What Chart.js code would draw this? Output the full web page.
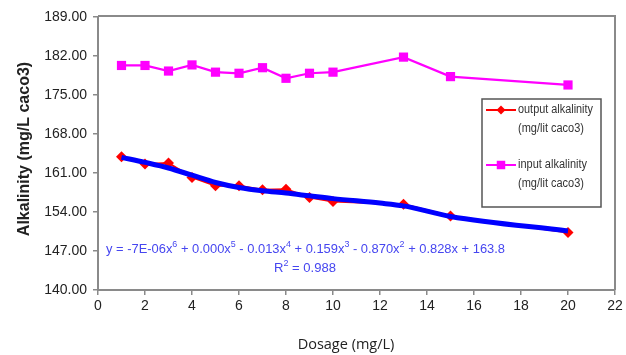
<!DOCTYPE html>
<html>
<head>
<meta charset="utf-8">
<script src="https://cdn.jsdelivr.net/npm/chart.js@4.4.1/dist/chart.umd.min.js"></script>
<style>
  html, body { margin: 0; padding: 0; background: #fff; }
  #wrap { width: 626px; height: 355px; position: relative; }
</style>
</head>
<body>
<div id="wrap"><canvas id="alkChart"></canvas></div>
<script>
// Dosage values (mg/L)
const doses = [1, 2, 3, 4, 5, 6, 7, 8, 9, 10, 13, 15, 20];
const inputAlk = [180.3, 180.3, 179.3, 180.4, 179.1, 178.9, 179.9, 178.0, 178.9, 179.1, 181.8, 178.3, 176.8];
const outputAlk = [163.9, 162.6, 162.8, 160.2, 158.7, 158.7, 158.0, 158.1, 156.6, 155.9, 155.4, 153.3, 150.3];
// Poly trendline as drawn in the picture
const trendX = [1, 2, 3, 4, 5, 6, 7, 8, 9, 10, 12, 13, 15, 20];
const trendY = [163.8, 162.9, 161.9, 160.6, 159.3, 158.4, 157.8, 157.4, 156.9, 156.4, 155.6, 155.1, 153.2, 150.6];

const legendItems = [
    { lines: ['output alkalinity', '(mg/lit caco3)'], color: '#ff0000', marker: 'rectRot' },
    { lines: ['input alkalinity', '(mg/lit caco3)'], color: '#ff00ff', marker: 'rect' }
];
// equation pieces: [text, superscript?]
const equationParts = [
    ['y = -7E-06x', false], ['6', true], [' + 0.000x', false], ['5', true],
    [' - 0.013x', false], ['4', true], [' + 0.159x', false], ['3', true],
    [' - 0.870x', false], ['2', true], [' + 0.828x + 163.8', false]
];
const r2Parts = [['R', false], ['2', true], [' = 0.988', false]];

const toXY = (xs, ys) => xs.map((x, i) => ({ x, y: ys[i] }));

const baseFont = '13px "Liberation Sans", Arial, sans-serif';
const supFont = '9px "Liberation Sans", Arial, sans-serif';

// draws text with superscripts, squeezed to a given width
function drawRich(c, parts, x, y, width, align) {
    let total = 0;
    parts.forEach(([t, sup]) => { c.font = sup ? supFont : baseFont; total += c.measureText(t).width; });
    const k = width / total;
    c.save();
    c.translate(align === 'center' ? x - width / 2 : x, y);
    c.scale(k, 1);
    c.textAlign = 'left';
    let cx = 0;
    parts.forEach(([t, sup]) => {
        c.font = sup ? supFont : baseFont;
        c.fillText(t, cx, sup ? -4 : 0);
        cx += c.measureText(t).width;
    });
    c.restore();
}

// Extra drawing: frame, titles, equation, legend
const extras = {
    id: 'extras',
    afterDraw(chart) {
        const c = chart.ctx;
        const a = chart.chartArea;
        c.save();
        // plot frame (top/right)
        c.strokeStyle = '#8a8a8a';
        c.lineWidth = 2;
        c.beginPath();
        c.moveTo(a.left, a.top - 1);
        c.lineTo(a.right, a.top - 1);
        c.lineTo(a.right, a.bottom);
        c.stroke();

        // axis titles
        c.fillStyle = '#222';
        c.textAlign = 'center';
        c.textBaseline = 'middle';
        c.font = '14.5px "Open Sans", sans-serif';
        c.fillText('Dosage (mg/L)', 346, 345, 106);
        c.save();
        c.translate(25, 149);
        c.rotate(-Math.PI / 2);
        c.font = 'bold 16px "Liberation Sans", Arial, sans-serif';
        c.fillText('Alkalinity (mg/L caco3)', 0, 0, 194);
        c.restore();

        // trendline equation
        c.fillStyle = '#4646f0';
        drawRich(c, equationParts, 106, 249, 399, 'left');
        drawRich(c, r2Parts, 305, 268, 62, 'center');

        // legend box
        c.strokeStyle = '#555';
        c.lineWidth = 1.5;
        c.strokeRect(482, 99, 119, 108);
        legendItems.forEach((item, i) => {
            const y = 110 + i * 55;
            c.strokeStyle = item.color;
            c.lineWidth = 2;
            c.beginPath();
            c.moveTo(486, y);
            c.lineTo(516, y);
            c.stroke();
            c.fillStyle = item.color;
            Chart.helpers.drawPoint(c, { pointStyle: item.marker, radius: item.marker === 'rect' ? 6 : 4.5, borderWidth: 0 }, 501, y);
            c.fillStyle = '#333';
            c.textAlign = 'left';
            c.font = '12px "Liberation Sans", Arial, sans-serif';
            c.fillText(item.lines[0], 518, y, item.lines[0].startsWith('output') ? 75 : 69);
            c.fillText(item.lines[1], 518, y + 19, 66);
        });
        c.restore();
    }
};

const axisColor = '#8a8a8a';
const tickFont = { family: '"Liberation Sans", Arial, sans-serif', size: 14 };

new Chart(document.getElementById('alkChart'), {
    type: 'scatter',
    data: {
        datasets: [
            {
                label: 'trend',
                data: toXY(trendX, trendY),
                showLine: true,
                borderColor: '#0000ff',
                borderWidth: 5,
                pointRadius: 0,
                cubicInterpolationMode: 'monotone',
                order: 0
            },
            {
                label: 'output alkalinity (mg/lit caco3)',
                data: toXY(doses, outputAlk),
                showLine: true,
                borderColor: '#ff0000',
                backgroundColor: '#ff0000',
                borderWidth: 2,
                pointStyle: 'rectRot',
                pointRadius: 5.5,
                pointBorderWidth: 0,
                order: 1
            },
            {
                label: 'input alkalinity (mg/lit caco3)',
                data: toXY(doses, inputAlk),
                showLine: true,
                borderColor: '#ff00ff',
                backgroundColor: '#ff00ff',
                borderWidth: 2.2,
                pointStyle: 'rect',
                pointRadius: 6.5,
                pointBorderWidth: 0,
                order: 2
            }
        ]
    },
    options: {
        responsive: true,
        maintainAspectRatio: false,
        animation: false,
        layout: { padding: { left: 0, right: 11, top: 17, bottom: 0 } },
        plugins: {
            legend: { display: false },
            tooltip: { enabled: false }
        },
        scales: {
            x: {
                type: 'linear',
                min: 0,
                max: 22,
                ticks: { stepSize: 2, color: '#222', font: tickFont, padding: 3 },
                grid: { drawOnChartArea: false, color: axisColor, tickLength: 5, lineWidth: 1.5 },
                border: { color: axisColor, width: 2 },
                afterFit(scale) { scale.height = 65; }
            },
            y: {
                min: 140,
                max: 189,
                ticks: {
                    stepSize: 7,
                    color: '#222',
                    font: tickFont,
                    padding: 6,
                    callback: v => v.toFixed(2)
                },
                grid: { drawOnChartArea: false, color: axisColor, tickLength: 5, lineWidth: 1.5 },
                border: { color: axisColor, width: 2 },
                afterFit(scale) { scale.width = 98; }
            }
        }
    },
    plugins: [extras]
});
</script>
</body>
</html>
